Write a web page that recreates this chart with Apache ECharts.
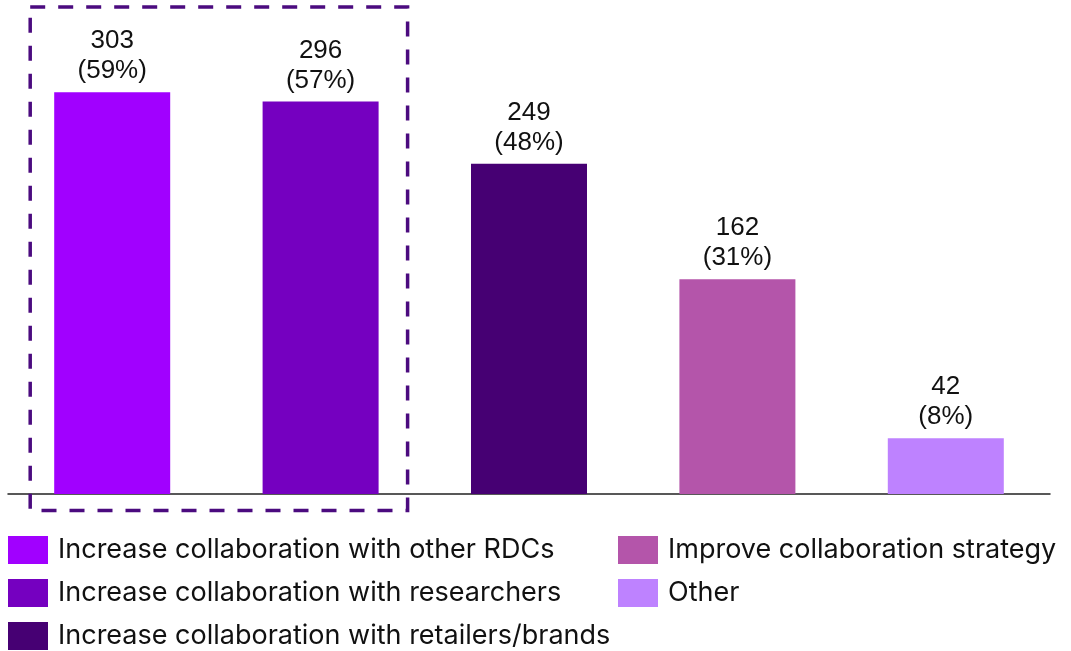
<!DOCTYPE html>
<html>
<head>
<meta charset="utf-8">
<style>
  html, body { margin: 0; padding: 0; background: #fff; }
  #chart { width: 1071px; height: 651px; }
</style>
<script src="https://cdn.jsdelivr.net/npm/echarts@6/dist/echarts.min.js"></script>
</head>
<body>
<div id="chart"></div>
<script>
// Responses per intended action, with share of respondents
const categories = [
  'Increase collaboration with other RDCs',
  'Increase collaboration with researchers',
  'Increase collaboration with retailers/brands',
  'Improve collaboration strategy',
  'Other'
];
const counts = [303, 296, 249, 162, 42];
const shares = ['59%', '57%', '48%', '31%', '8%'];
const colors = ['#a100ff', '#7500c0', '#460073', '#b455aa', '#be82ff'];

const chart = echarts.init(document.getElementById('chart'));

const series = categories.map((name, i) => ({
  name: name,
  type: 'bar',
  stack: 'one',
  barWidth: 116,
  itemStyle: { color: colors[i] },
  data: categories.map((_, j) => (j === i ? counts[i] : null)),
  label: {
    show: true,
    position: 'top',
    distance: 6,
    color: '#111',
    fontFamily: 'Liberation Sans, Arial, sans-serif',
    fontSize: 26,
    lineHeight: 30,
    formatter: p => counts[p.dataIndex] + '\n(' + shares[p.dataIndex] + ')'
  }
}));

const legendText = {
  color: '#111',
  fontFamily: 'Inter, sans-serif',
  fontSize: 27,
  padding: [5, 0, 0, 5]
};

const legendBase = {
  orient: 'vertical',
  top: 536,
  padding: 0,
  icon: 'rect',
  itemWidth: 40,
  itemHeight: 28,
  itemGap: 15,
  selectedMode: false,
  textStyle: legendText
};

chart.setOption({
  animation: false,
  grid: { left: 8, right: 21, top: 22, bottom: 157 },
  xAxis: {
    type: 'category',
    data: categories,
    axisLine: { lineStyle: { color: '#222', width: 1.5 } },
    axisTick: { show: false },
    axisLabel: { show: false }
  },
  yAxis: {
    type: 'value',
    min: 0,
    max: 356,
    show: false,
    splitLine: { show: false }
  },
  legend: [
    Object.assign({}, legendBase, { data: categories.slice(0, 3), left: 8 }),
    Object.assign({}, legendBase, { data: categories.slice(3), left: 618 })
  ],
  series: series
});

// Dashed frame around the first two bars
const c0 = chart.convertToPixel({ xAxisIndex: 0 }, 0);
const c1 = chart.convertToPixel({ xAxisIndex: 0 }, 1);
const base = chart.convertToPixel({ yAxisIndex: 0 }, 0);
const frameLeft = c0 - 82;
const frameRight = c1 + 87;
const frameTop = 7;
chart.setOption({
  graphic: [{
    type: 'rect',
    shape: {
      x: frameLeft,
      y: frameTop,
      width: frameRight - frameLeft,
      height: base + 16.5 - frameTop
    },
    style: { fill: 'none', stroke: '#4b0b7f', lineWidth: 3.5, lineDash: [15, 13] },
    z: 10
  }]
});
</script>
</body>
</html>
